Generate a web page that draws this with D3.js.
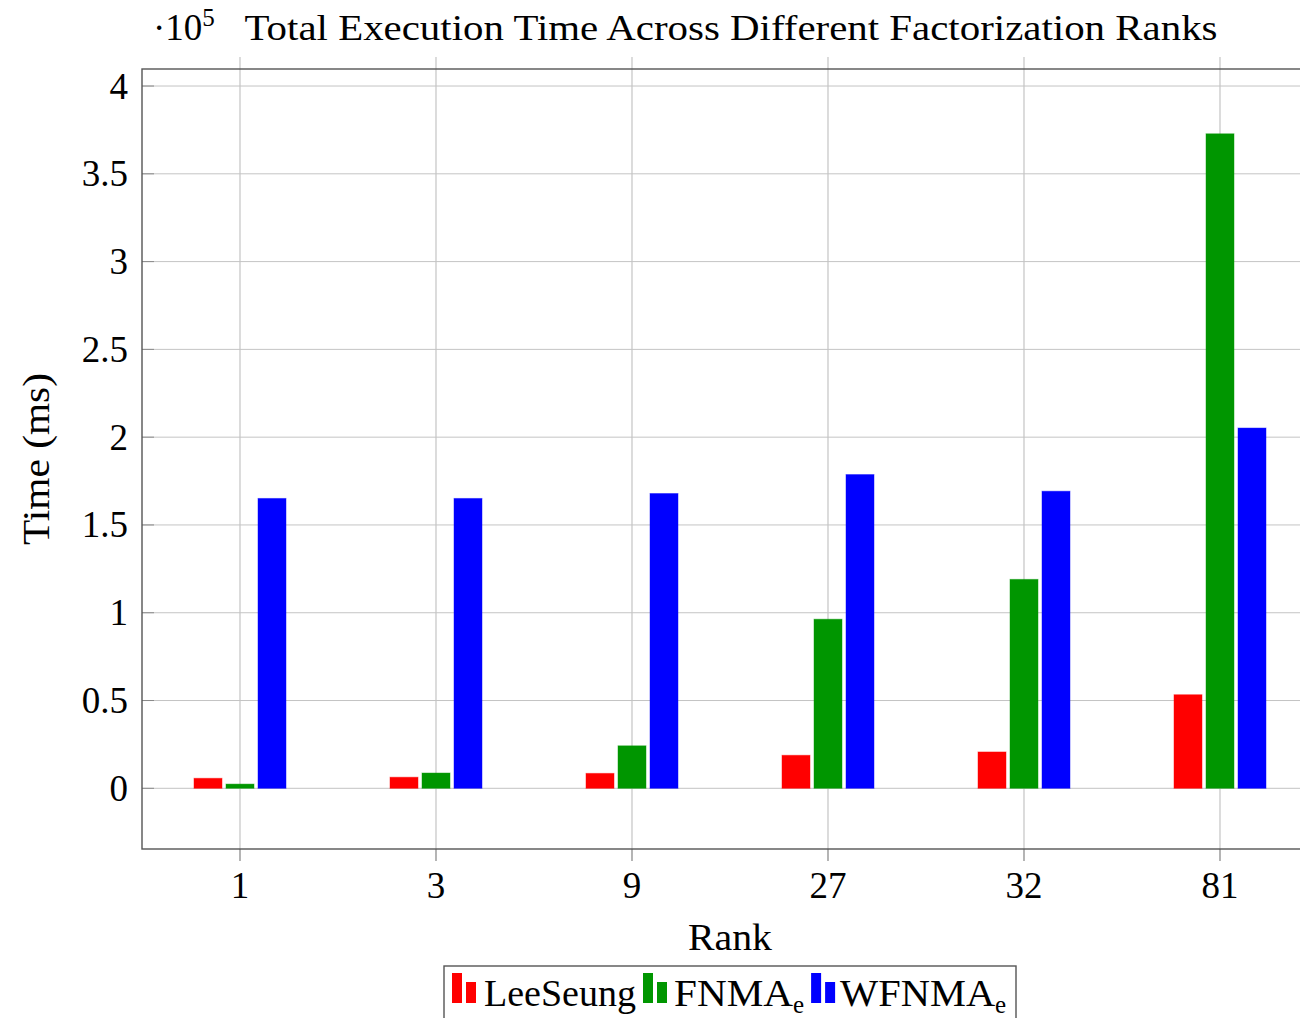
<!DOCTYPE html>
<html>
<head>
<meta charset="utf-8">
<script src="https://cdn.jsdelivr.net/npm/d3@7"></script>
<style>
  body { margin: 0; background: #fff; }
  text { font-family: "Liberation Serif", "Times New Roman", serif; fill: #000; }
</style>
</head>
<body>
<svg id="chart" width="1300" height="1018"></svg>
<script>
// data (times in ms)
const ranks = ["1", "3", "9", "27", "32", "81"];
const seriesNames = ["LeeSeung", "FNMA", "WFNMA"];
const leeSeung = [5700, 6300, 8500, 18800, 20700, 53300];
const fnma = [2400, 8700, 24200, 96300, 119000, 372800];
const wfnma = [165100, 165100, 167900, 178700, 169200, 205200];
const yTicks = [0, 50000, 100000, 150000, 200000, 250000, 300000, 350000, 400000];
const colors = ["#ff0000", "#009600", "#0000ff"];

const svg = d3.select("#chart");
const plotL = 142, plotR = 1318, plotT = 69, plotB = 849;

const x = d3.scalePoint().domain(ranks).range([plotL, plotR]).padding(0.5);
const xs = d3.scalePoint().domain(seriesNames).range([-32, 32]);
const y = d3.scaleLinear().domain([-34570, 409700]).range([plotB, plotT]);
const barW = 28;

// grid
svg.append("g")
  .selectAll("line")
  .data(yTicks)
  .join("line")
  .attr("x1", plotL).attr("x2", plotR)
  .attr("y1", d => y(d)).attr("y2", d => y(d))
  .attr("stroke", "#c4c4c4").attr("stroke-width", 1);

svg.append("g")
  .selectAll("line")
  .data(ranks)
  .join("line")
  .attr("x1", d => x(d)).attr("x2", d => x(d))
  .attr("y1", plotT - 12).attr("y2", plotB + 12)
  .attr("stroke", "#c4c4c4").attr("stroke-width", 1.2);

// bars
const table = [leeSeung, fnma, wfnma];
table.forEach((vals, si) => {
  svg.append("g")
    .selectAll("rect")
    .data(vals)
    .join("rect")
    .attr("x", (d, i) => x(ranks[i]) + xs(seriesNames[si]) - barW / 2)
    .attr("width", barW)
    .attr("y", d => y(d))
    .attr("height", d => y(0) - y(d))
    .attr("fill", colors[si])
    .attr("stroke", colors[si])
    .attr("stroke-opacity", 0.45)
    .attr("stroke-width", 1);
});

// y ticks (inside)
svg.append("g")
  .selectAll("line")
  .data(yTicks)
  .join("line")
  .attr("x1", plotL).attr("x2", plotL + 12)
  .attr("y1", d => y(d)).attr("y2", d => y(d))
  .attr("stroke", "#8a8a8a").attr("stroke-width", 1);

// x ticks below
svg.append("g")
  .selectAll("line")
  .data(ranks)
  .join("line")
  .attr("x1", d => x(d)).attr("x2", d => x(d))
  .attr("y1", plotB).attr("y2", plotB + 12)
  .attr("stroke", "#9a9a9a").attr("stroke-width", 1.2);

// frame
svg.append("rect")
  .attr("x", plotL).attr("y", plotT)
  .attr("width", plotR - plotL).attr("height", plotB - plotT)
  .attr("fill", "none").attr("stroke", "#555").attr("stroke-width", 1.4);

// tick labels
svg.append("g")
  .selectAll("text")
  .data(yTicks)
  .join("text")
  .attr("x", 128)
  .attr("y", d => y(d) + 12.5)
  .attr("text-anchor", "end")
  .attr("font-size", 37)
  .text(d => d3.format("~g")(d / 1e5));

svg.append("g")
  .selectAll("text")
  .data(ranks)
  .join("text")
  .attr("x", d => x(d))
  .attr("y", 898)
  .attr("text-anchor", "middle")
  .attr("font-size", 37)
  .text(d => d);

// axis labels
svg.append("text")
  .attr("x", 730).attr("y", 950)
  .attr("text-anchor", "middle")
  .attr("font-size", 37)
  .attr("textLength", 84)
  .attr("lengthAdjust", "spacingAndGlyphs")
  .text("Rank");

svg.append("text")
  .attr("transform", "translate(49,459) rotate(-90)")
  .attr("text-anchor", "middle")
  .attr("font-size", 37)
  .attr("textLength", 172)
  .attr("lengthAdjust", "spacingAndGlyphs")
  .text("Time (ms)");

// scale marker and title
const sc = svg.append("text").attr("x", 153).attr("y", 40).attr("font-size", 37);
sc.append("tspan").text("·10");
sc.append("tspan").attr("font-size", 25).attr("dy", -14).text("5");

svg.append("text")
  .attr("x", 731).attr("y", 40)
  .attr("text-anchor", "middle")
  .attr("font-size", 35)
  .attr("textLength", 973)
  .attr("lengthAdjust", "spacingAndGlyphs")
  .text("Total Execution Time Across Different Factorization Ranks");

// legend
const legend = svg.append("g");
legend.append("rect")
  .attr("x", 444).attr("y", 966)
  .attr("width", 572).attr("height", 70)
  .attr("fill", "#fff").attr("stroke", "#555").attr("stroke-width", 1.4);

const nameWidths = [152, 119, 155];
const iconGap = [32, 31, 29];
let cx = 452;
seriesNames.forEach((name, si) => {
  const g = legend.append("g");
  g.append("rect").attr("x", cx).attr("y", 973).attr("width", 10).attr("height", 30)
    .attr("fill", colors[si]);
  g.append("rect").attr("x", cx + 14).attr("y", 982).attr("width", 10).attr("height", 21)
    .attr("fill", colors[si]);
  const t = g.append("text").attr("x", cx + iconGap[si]).attr("y", 1006).attr("font-size", 37);
  t.append("tspan")
    .attr("textLength", nameWidths[si])
    .attr("lengthAdjust", "spacingAndGlyphs")
    .text(name);
  if (name !== "LeeSeung") {
    t.append("tspan").attr("font-size", 25).attr("dy", 7).text("e");
  }
  cx += iconGap[si] + t.node().getComputedTextLength() + 7;
});
</script>
</body>
</html>
